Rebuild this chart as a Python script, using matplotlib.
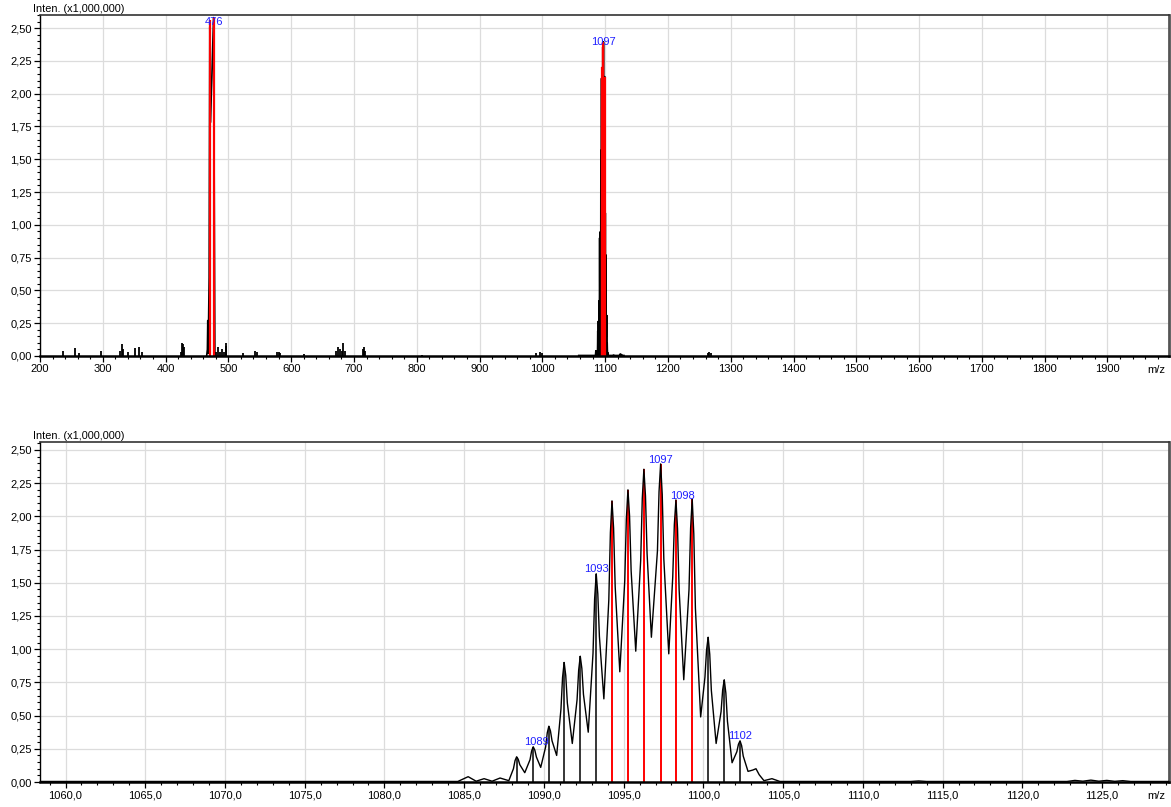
import matplotlib
matplotlib.use('Agg')
import matplotlib.pyplot as plt
from matplotlib.ticker import MultipleLocator, FuncFormatter

plt.rcParams['font.family'] = ['Liberation Sans', 'DejaVu Sans']

# isotope cluster (peak list)
iso_mz = [1088.29, 1089.33, 1090.31, 1091.27, 1092.28, 1093.28, 1094.27, 1095.27,
          1096.27, 1097.32, 1098.28, 1099.30, 1100.30, 1101.31, 1102.30]
iso_int = [0.19, 0.265, 0.42, 0.90, 0.947, 1.568, 2.117, 2.20,
           2.355, 2.395, 2.124, 2.13, 1.09, 0.77, 0.31]
iso_red = [False, False, False, False, False, False, True, True,
           True, True, True, True, False, False, False]
zoom_labels = ['', '1089', '', '', '', '1093', '', '', '', '1097', '1098', '', '', '', '1102']

# profile trace of the zoomed spectrum
profile_mz = [1058.0, 1084.6, 1085.25, 1085.75, 1086.25, 1086.75, 1087.25, 1087.8,
              1088.09, 1088.19, 1088.29, 1088.39, 1088.49, 1088.8,
              1089.13, 1089.23, 1089.33, 1089.43, 1089.53, 1089.8,
              1090.11, 1090.21, 1090.31, 1090.41, 1090.51, 1090.8,
              1091.07, 1091.17, 1091.27, 1091.37, 1091.47, 1091.78,
              1092.08, 1092.18, 1092.28, 1092.38, 1092.48, 1092.78,
              1093.08, 1093.18, 1093.28, 1093.38, 1093.48, 1093.76,
              1094.07, 1094.17, 1094.27, 1094.37, 1094.47, 1094.76,
              1095.07, 1095.17, 1095.27, 1095.37, 1095.47, 1095.76,
              1096.07, 1096.17, 1096.27, 1096.37, 1096.47, 1096.74,
              1097.12, 1097.22, 1097.32, 1097.42, 1097.52, 1097.83,
              1098.08, 1098.18, 1098.28, 1098.38, 1098.48, 1098.77,
              1099.10, 1099.20, 1099.30, 1099.40, 1099.50, 1099.83,
              1100.10, 1100.20, 1100.30, 1100.40, 1100.50, 1100.80,
              1101.11, 1101.21, 1101.31, 1101.41, 1101.51, 1101.80,
              1102.10, 1102.20, 1102.30, 1102.40, 1102.50, 1102.80,
              1103.10, 1103.30, 1103.50, 1103.80, 1104.30, 1104.80,
              1113.0, 1113.5, 1114.0, 1122.8, 1123.3, 1123.8, 1124.3, 1124.8,
              1125.3, 1125.8, 1126.3, 1126.8, 1130.0]
profile_int = [0.004, 0.004, 0.04, 0.006, 0.025, 0.006, 0.03, 0.01,
               0.10, 0.161, 0.19, 0.171, 0.13, 0.07,
               0.168, 0.234, 0.265, 0.240, 0.188, 0.11,
               0.265, 0.37, 0.42, 0.385, 0.31, 0.20,
               0.55, 0.788, 0.90, 0.802, 0.595, 0.29,
               0.62, 0.842, 0.947, 0.855, 0.66, 0.375,
               0.97, 1.377, 1.568, 1.417, 1.097, 0.626,
               1.37, 1.878, 2.117, 1.911, 1.47, 0.83,
               1.515, 1.98, 2.20, 2.006, 1.59, 0.985,
               1.67, 2.136, 2.355, 2.153, 1.72, 1.09,
               1.74, 2.186, 2.395, 2.166, 1.68, 0.965,
               1.545, 1.939, 2.124, 1.907, 1.447, 0.77,
               1.45, 1.912, 2.13, 1.868, 1.31, 0.49,
               0.79, 0.994, 1.09, 0.962, 0.69, 0.29,
               0.53, 0.693, 0.77, 0.67, 0.458, 0.145,
               0.228, 0.284, 0.31, 0.273, 0.195, 0.08,
               0.09, 0.10, 0.055, 0.01, 0.025, 0.004,
               0.004, 0.008, 0.004, 0.004, 0.012, 0.006, 0.014, 0.006,
               0.012, 0.005, 0.01, 0.004, 0.004]

# survey spectrum: small peaks (sticks)
survey_mz = [237, 256, 262, 297, 328, 330, 332, 340, 352, 358, 363, 424, 426, 428, 430,
             480, 483, 487, 490, 493, 496, 497, 524, 543, 545, 578, 580, 582, 620,
             672, 675, 677, 681, 683, 685, 714, 716, 718, 808, 990, 996, 1000,
             1264, 1266, 1268]
survey_int = [0.04, 0.06, 0.02, 0.04, 0.04, 0.09, 0.05, 0.03, 0.06, 0.07, 0.03, 0.03, 0.10, 0.09, 0.07,
              0.03, 0.07, 0.03, 0.05, 0.03, 0.08, 0.10, 0.02, 0.04, 0.03, 0.03, 0.03, 0.025, 0.015,
              0.04, 0.07, 0.05, 0.04, 0.10, 0.04, 0.05, 0.07, 0.04, 0.01, 0.02, 0.03, 0.02,
              0.025, 0.03, 0.02]

# 476 cluster profile and its picked peaks
c476_mz = [465.5, 466.6, 467.2, 467.8, 469.4, 470.4, 471.3, 473.5, 476.4, 478.5]
c476_int = [0.004, 0.05, 0.27, 0.02, 0.6, 2.51, 1.78, 2.1, 2.58, 0.004]
red476_mz = [470.2, 476.5]
red476_int = [2.56, 2.58]

BLUE = '#2020ff'
FS = 8


def comma(fmt):
    return FuncFormatter(lambda v, p: format(v, fmt).replace('.', ','))


def style(ax, ytop):
    ax.set_ylim(0, ytop)
    ax.yaxis.set_major_locator(MultipleLocator(0.25))
    ax.yaxis.set_minor_locator(MultipleLocator(0.05))
    ax.yaxis.set_major_formatter(comma('.2f'))
    ax.grid(True, which='major', color='#dcdcdc', lw=0.9)
    ax.set_axisbelow(True)
    ax.tick_params(which='major', direction='out', length=4, width=0.9, labelsize=FS, pad=2)
    ax.tick_params(which='minor', direction='out', length=2.5, width=0.8)
    ax.spines['left'].set_linewidth(1.0)
    ax.spines['bottom'].set_linewidth(1.8)
    ax.spines['top'].set_color('#333333')
    ax.spines['top'].set_linewidth(1.2)
    ax.spines['right'].set_color('#555555')
    ax.spines['right'].set_linewidth(2.0)
    ax.text(-0.006, 1.004, 'Inten. (x1,000,000)', transform=ax.transAxes,
            ha='left', va='bottom', fontsize=7.8)
    ax.annotate('m/z', (0.989, 0), xycoords='axes fraction', xytext=(0, -6.5),
                textcoords='offset points', ha='center', va='top', fontsize=FS)


fig = plt.figure(figsize=(11.71, 8.07), dpi=100)
ax1 = fig.add_axes([40 / 1171, 1 - 356 / 807, 1129 / 1171, 341 / 807])
ax2 = fig.add_axes([40 / 1171, 1 - 782 / 807, 1129 / 1171, 340 / 807])

# ---- top: full spectrum
ax1.vlines(survey_mz, 0, survey_int, color='black', lw=1.3)
ax1.plot(c476_mz, c476_int, color='black', lw=1.2)
ax1.plot(profile_mz, profile_int, color='black', lw=1.2)
ax1.vlines([m for m, r in zip(iso_mz, iso_red) if not r], 0,
           [h for h, r in zip(iso_int, iso_red) if not r], color='black', lw=1.2)
ax1.vlines(red476_mz, 0, red476_int, color='red', lw=1.6)
ax1.vlines([m for m, r in zip(iso_mz, iso_red) if r], 0,
           [h for h, r in zip(iso_int, iso_red) if r], color='red', lw=1.6)
ax1.text(476.4, 2.525, '476', color=BLUE, ha='center', va='baseline', fontsize=FS)
ax1.text(iso_mz[9], iso_int[9] - 0.025, '1097', color=BLUE, ha='center', va='baseline', fontsize=FS)

ax1.set_xlim(200, 1998)
ax1.xaxis.set_minor_locator(MultipleLocator(20))
ax1.set_xticks(range(200, 2000, 100))
ax1.xaxis.set_major_formatter(FuncFormatter(lambda v, p: f'{v:.0f}'))
style(ax1, 2.60)

# ---- bottom: zoom on isotope cluster
for m, h, r in zip(iso_mz, iso_int, iso_red):
    ax2.vlines(m, 0, h, color='red' if r else 'black', lw=1.4 if r else 1.1, zorder=2)
ax2.plot(profile_mz, profile_int, color='black', lw=1.0, zorder=3)
for m, h, lab in zip(iso_mz, iso_int, zoom_labels):
    if lab:
        dx = 5 if lab == '1098' else (2 if lab == '1089' else 0)
        ax2.annotate(lab, (m, h), xytext=(dx, 1), textcoords='offset points',
                     color=BLUE, ha='center', va='baseline', fontsize=FS, zorder=4)

ax2.set_xlim(1058.4, 1129.2)
ax2.set_xticks([1060 + 5 * i for i in range(14)])
ax2.xaxis.set_minor_locator(MultipleLocator(1))
ax2.xaxis.set_major_formatter(comma('.1f'))
style(ax2, 2.56)

plt.savefig('out.png', dpi=100)
